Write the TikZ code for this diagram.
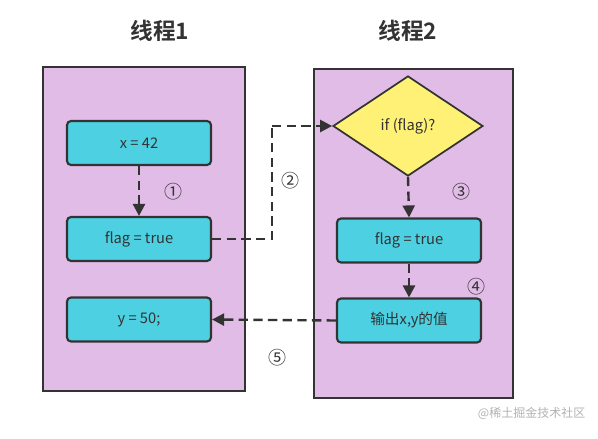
\documentclass[tikz,border=0pt]{standalone}
\usepackage{fontspec}
\setmainfont{Noto Sans CJK SC}
\newfontfamily\cjkbold{Noto Sans CJK SC Bold}
\usetikzlibrary{shapes.geometric,arrows.meta}
\definecolor{panelfill}{HTML}{E0BCE6}
\definecolor{boxfill}{HTML}{4DD0E1}
\definecolor{diafill}{HTML}{FFF176}
\definecolor{stroke}{HTML}{333333}
\tikzset{
  panel/.style={draw=stroke,fill=panelfill,line width=1.6pt,rectangle,minimum width=151.5pt,minimum height=243pt,inner sep=0pt},
  procbox/.style={draw=stroke,fill=boxfill,line width=1.6pt,rounded corners=3pt,minimum width=108pt,minimum height=33pt,inner sep=0pt,font=\fontsize{11}{13}\selectfont,text=stroke},
  decision/.style={draw=stroke,fill=diafill,line width=1.3pt,diamond,minimum width=112.5pt,minimum height=75pt,inner sep=0pt,font=\fontsize{11}{13}\selectfont,text=stroke},
  flow/.style={draw=stroke,line width=1.8pt,dash pattern=on 7pt off 4pt,-{Triangle[length=9pt,width=9pt]}},
  flowplain/.style={draw=stroke,line width=1.8pt,dash pattern=on 7pt off 4pt},
  num/.style={font=\fontsize{13.5}{15}\selectfont,text=stroke,inner sep=0pt},
  title/.style={font=\cjkbold\fontsize{17}{19}\selectfont,text=stroke},
  wm/.style={font=\fontsize{9}{11}\selectfont,text=black!30}
}
\begin{document}
\begin{tikzpicture}[x=0.75pt,y=-0.75pt]
\useasboundingbox (0,0) rectangle (598,438);
\node[title] (t1) at (160,31) {线程1};
\node[title] (t2) at (408,31) {线程2};
\node[panel] (p1) at (144,229) {};
\node[panel,minimum width=149.25pt,minimum height=246.75pt] (p2) at (413.5,233.5) {};
\node[procbox] (a1) at (139,143) {x = 42};
\node[procbox] (a2) at (139,239) {flag = true};
\node[procbox] (a3) at (139,319.5) {y = 50;};
\node[decision] (d) at (408,126) {if (flag)?};
\node[procbox] (b1) at (409,240.5) {flag = true};
\node[procbox] (b2) at (409,320.5) {输出x,y的值};
\node[num] (n1) at (173,192) {①};
\node[num] (n2) at (290,181) {②};
\node[num] (n3) at (461,192) {③};
\node[num] (n4) at (476,287) {④};
\node[num] (n5) at (277,358) {⑤};
\coordinate (c2) at (272,126);
\draw[flow] (a1.south) -- (a2.north);
\draw[flowplain] (a2.east) -| (c2);
\draw[flow] (c2) -- (d.west);
\draw[flow] (d.south) -- (b1.north);
\draw[flow] (b1.south) -- (b2.north);
\draw[flow] (b2.west) -- (a3.east);
\node[wm,anchor=east] (w) at (590,413) {@稀土掘金技术社区};
\end{tikzpicture}
\end{document}
